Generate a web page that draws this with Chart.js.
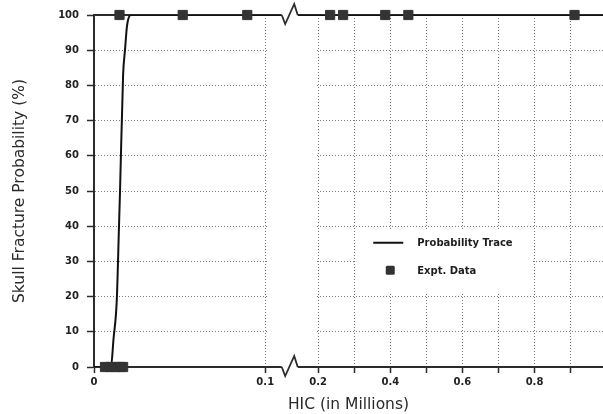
<!DOCTYPE html>
<html>
<head>
<meta charset="utf-8">
<script src="https://cdn.jsdelivr.net/npm/chart.js@4/dist/chart.umd.min.js"></script>
<style>
  html, body { margin: 0; padding: 0; background: #fff; }
  #wrap { width: 603px; height: 414px; position: relative; }
</style>
</head>
<body>
<div id="wrap"><canvas id="hic-chart"></canvas></div>
<script>
// HIC values in millions, probability in percent
const traceHic  = [0, 0.0099, 0.0114, 0.0133, 0.0146, 0.0152, 0.0170, 0.0181, 0.0193, 0.0216, 0.99];
const traceProb = [0, 0, 8, 19, 40, 50, 83, 90, 97, 100, 100];

const exptHic  = [0.0064, 0.0094, 0.0123, 0.0152, 0.0170, 0.0149, 0.0518, 0.0895, 0.233, 0.269, 0.386, 0.45, 0.911];
const exptProb = [0, 0, 0, 0, 0, 100, 100, 100, 100, 100, 100, 100, 100];

const xTickVals   = [0, 0.1, 0.2, 0.3, 0.4, 0.5, 0.6, 0.7, 0.8, 0.9];
const xTickLabels = ['0', '0.1', '0.2', '', '0.4', '', '0.6', '', '0.8', ''];
const yTickVals   = [0, 10, 20, 30, 40, 50, 60, 70, 80, 90, 100];

const xMaxHic = 0.99;

// broken x axis: 0-0.1 is stretched, then a gap, then 0.2 onwards at normal scale
const LEFT_SCALE = 4.75;
const BREAK_AT = 0.1, RESUME_AT = 0.2, BREAK_WIDTH = 0.147;
function axisPos(hic) {
  if (hic <= BREAK_AT) return hic * LEFT_SCALE;
  return BREAK_AT * LEFT_SCALE + BREAK_WIDTH + (hic - RESUME_AT);
}

const INK = '#2b2b2b';
const FONT = "'DejaVu Sans', sans-serif";

const breakPlugin = {
  id: 'axisBreak',
  beforeDatasetsDraw(chart) {
    const {ctx, chartArea, scales: {x}} = chart;
    const a = x.getPixelForValue(axisPos(BREAK_AT));
    const b = x.getPixelForValue(axisPos(RESUME_AT));
    ctx.save();
    // no grid inside the break
    ctx.fillStyle = '#fff';
    ctx.fillRect(a + 2, chartArea.top + 2, b - a - 4, chartArea.bottom - chartArea.top - 4);
    // top frame line
    ctx.strokeStyle = INK;
    ctx.lineWidth = 2;
    ctx.beginPath();
    ctx.moveTo(chartArea.left, chartArea.top);
    ctx.lineTo(chartArea.right, chartArea.top);
    ctx.stroke();
    ctx.restore();
  },
  afterDatasetsDraw(chart) {
    const {ctx, chartArea, scales: {x}} = chart;
    const mid = (x.getPixelForValue(axisPos(BREAK_AT)) + x.getPixelForValue(axisPos(RESUME_AT))) / 2;
    ctx.save();
    [chartArea.top, chartArea.bottom].forEach(y => {
      ctx.fillStyle = '#fff';
      ctx.fillRect(mid - 10, y - 2, 16, 4);
      ctx.strokeStyle = INK;
      ctx.lineWidth = 1.8;
      ctx.lineJoin = 'miter';
      ctx.beginPath();
      ctx.moveTo(mid - 10, y);
      ctx.lineTo(mid - 6.5, y + 9);
      ctx.lineTo(mid + 2.5, y - 11);
      ctx.lineTo(mid + 6, y);
      ctx.stroke();
    });
    ctx.restore();
  }
};

const legendPlugin = {
  id: 'boxLegend',
  afterDatasetsDraw(chart) {
    const {ctx, scales: {x, y}} = chart;
    const left = x.getPixelForValue(axisPos(0.3)) + 2;
    const right = x.getPixelForValue(axisPos(0.8)) - 2;
    const top = y.getPixelForValue(39);
    const bottom = y.getPixelForValue(21);
    ctx.save();
    ctx.fillStyle = '#fff';
    ctx.fillRect(left, top, right - left, bottom - top);

    const row1 = y.getPixelForValue(35.3);
    const row2 = y.getPixelForValue(27.5);
    ctx.strokeStyle = '#111';
    ctx.lineWidth = 2;
    ctx.beginPath();
    ctx.moveTo(left + 17, row1);
    ctx.lineTo(left + 47, row1);
    ctx.stroke();

    ctx.fillStyle = '#333';
    ctx.beginPath();
    ctx.roundRect(left + 29.5, row2 - 4.5, 9, 9, 1.5);
    ctx.fill();

    ctx.fillStyle = '#1e1e1e';
    ctx.font = 'bold 10px ' + FONT;
    ctx.textBaseline = 'middle';
    ctx.fillText('Probability Trace', left + 61, row1 + 1);
    ctx.fillText('Expt. Data', left + 61, row2 + 1);
    ctx.restore();
  }
};

const tracePoints = traceHic.map((h, i) => ({x: axisPos(h), y: traceProb[i]}));
const exptPoints = exptHic.map((h, i) => ({x: axisPos(h), y: exptProb[i]}));

const hicChart = new Chart(document.getElementById('hic-chart'), {
  type: 'scatter',
  data: {
    datasets: [{
      label: 'Probability Trace',
      data: tracePoints,
      showLine: true,
      borderColor: '#111',
      borderWidth: 2,
      pointRadius: 0,
      cubicInterpolationMode: 'monotone',
      order: 2
    }, {
      label: 'Expt. Data',
      data: exptPoints,
      clip: false,
      pointStyle: 'rect',
      pointRadius: 6.5,
      pointHoverRadius: 6.5,
      backgroundColor: '#333',
      borderColor: '#333',
      borderWidth: 1,
      order: 1
    }]
  },
  options: {
    responsive: true,
    maintainAspectRatio: false,
    animation: false,
    events: [],
    layout: { autoPadding: false, padding: { top: 15, right: 0, bottom: 0, left: 0 } },
    plugins: {
      legend: { display: false },
      tooltip: { enabled: false }
    },
    scales: {
      x: {
        type: 'linear',
        min: 0,
        max: axisPos(xMaxHic),
        afterBuildTicks: scale => {
          scale.ticks = xTickVals.map(v => ({value: axisPos(v)}));
        },
        afterFit: scale => {
          scale.height = 47;
          scale.paddingLeft = 0;
          scale.paddingRight = 0;
        },
        ticks: {
          autoSkip: false,
          maxRotation: 0,
          padding: 3,
          color: '#222',
          font: { family: FONT, size: 10, weight: 'bold' },
          callback: (v, i) => xTickLabels[i]
        },
        grid: {
          color: '#7a7a7a',
          lineWidth: 1,
          tickLength: 6,
          tickColor: INK,
          tickWidth: 1.5
        },
        border: { display: true, color: INK, width: 2, dash: [1, 2] },
        title: {
          display: true,
          text: 'HIC (in Millions)',
          color: '#2a2a2a',
          font: { family: FONT, size: 15.5 },
          padding: { top: 0, bottom: 0 }
        }
      },
      y: {
        min: 0,
        max: 100,
        afterBuildTicks: scale => {
          scale.ticks = yTickVals.map(v => ({value: v}));
        },
        afterFit: scale => { scale.width = 94; },
        ticks: {
          padding: 8,
          color: '#222',
          font: { family: FONT, size: 10, weight: 'bold' }
        },
        grid: {
          color: '#7a7a7a',
          lineWidth: 1,
          tickLength: 7,
          tickColor: INK,
          tickWidth: 1.5
        },
        border: { display: true, color: INK, width: 2, dash: [1, 2] },
        title: {
          display: true,
          text: 'Skull Fracture Probability (%)',
          color: '#2a2a2a',
          font: { family: FONT, size: 15.5 },
          padding: { top: 11, bottom: 0 }
        }
      }
    }
  },
  plugins: [breakPlugin, legendPlugin]
});
</script>
</body>
</html>
